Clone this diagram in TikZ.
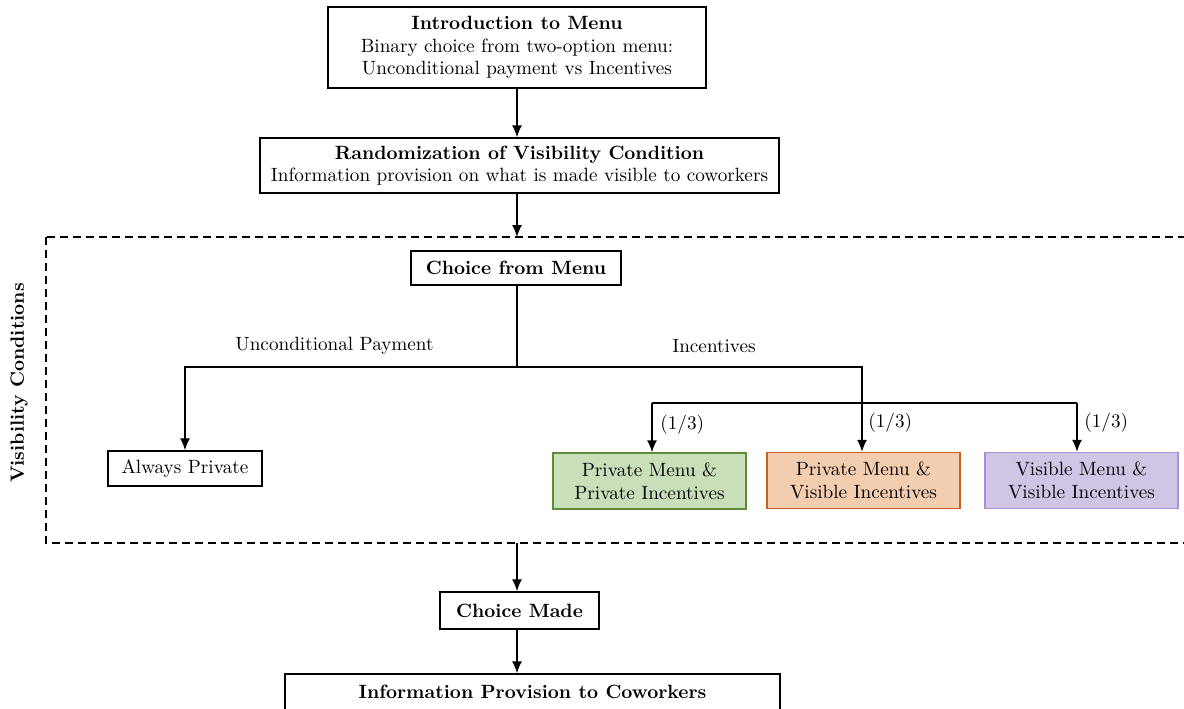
\documentclass[tikz,border=0pt]{standalone}
\usetikzlibrary{arrows.meta}
\definecolor{gfill}{HTML}{C9DFB9}
\definecolor{gdraw}{HTML}{5E8C3A}
\definecolor{ofill}{HTML}{F3CDAF}
\definecolor{odraw}{HTML}{C8601E}
\definecolor{pfill}{HTML}{D1C5E5}
\definecolor{pdraw}{HTML}{A990D2}
\begin{document}
\begin{tikzpicture}[x=0.5pt,y=-0.5pt,
  every node/.style={font=\fontsize{9.6}{11.3}\selectfont},
  box/.style={draw, line width=0.7pt, align=center, inner sep=1pt},
  arr/.style={line width=0.7pt, -{Latex[length=6pt,width=5pt]}},
  ln/.style={line width=0.7pt},
  lbl/.style={inner sep=1pt}]
\useasboundingbox (0,0) rectangle (1184,708);
\clip (0,0) rectangle (1184,708);
\node[box, minimum width=189pt, minimum height=40.5pt] (intro) at (517,47.5)
  {\textbf{Introduction to Menu}\\Binary choice from two-option menu:\\Unconditional payment vs Incentives};
\node[box, minimum width=259.5pt, minimum height=27.5pt] (rand) at (519.5,165.5)
  {\textbf{Randomization of Visibility Condition}\\Information provision on what is made visible to coworkers};
\draw[dash pattern=on 4pt off 2.5pt, line width=0.7pt] (46,237) rectangle (1220,543);
\coordinate (dtop) at (517,237);
\coordinate (dbot) at (517,543);
\node[box, minimum width=105pt, minimum height=17pt] (menu) at (516,268) {\textbf{Choice from Menu}};
\node[box, minimum width=77pt, minimum height=17.5pt] (always) at (185,468.5) {Always Private};
\node[box, draw=gdraw, fill=gfill, minimum width=96.5pt, minimum height=28pt] (green) at (649.5,481) {Private Menu \&\\Private Incentives};
\node[box, draw=odraw, fill=ofill, minimum width=96.5pt, minimum height=28pt] (orange) at (863.5,480.5) {Private Menu \&\\Visible Incentives};
\node[box, draw=pdraw, fill=pfill, minimum width=96.5pt, minimum height=28pt] (purple) at (1081.5,480.5) {Visible Menu \&\\Visible Incentives};
\node[box, minimum width=79.5pt, minimum height=18.5pt] (made) at (519.5,610.5) {\textbf{Choice Made}};
\node[box, minimum width=247.5pt, minimum height=18pt] (info) at (532.5,692) {\textbf{Information Provision to Coworkers}};
\node[rotate=90, font=\fontsize{9.6}{11.3}\selectfont\bfseries] (vis) at (19,383) {Visibility Conditions};
\node[lbl] (lu) at (334.5,346) {Unconditional Payment};
\node[lbl] (li) at (714,346) {Incentives};
\coordinate (j1) at (517,367);
\coordinate (j2) at (862,403);
\coordinate (a1) at (652,403);
\coordinate (a3) at (1077,403);
\draw[arr] (intro.south) -- (rand.north -| intro.south);
\draw[arr] (rand.south -| intro.south) -- (dtop);
\draw[ln] (menu.south -| j1) -- (j1);
\draw[arr] (j1) -| (always.north);
\draw[ln] (j1) -| (j2);
\draw[ln] (a1) -- (a3);
\draw[arr] (j2) -- (j2 |- orange.north);
\draw[arr] (a1) -- (a1 |- green.north);
\draw[arr] (a3) -- (a3 |- purple.north);
\node[lbl, anchor=west] (p1) at (658,425) {(1/3)};
\node[lbl, anchor=west] (p2) at (866,423) {(1/3)};
\node[lbl, anchor=west] (p3) at (1082,423) {(1/3)};
\draw[arr] (dbot) -- (made.north -| dbot);
\draw[arr] (made.south -| dbot) -- (info.north -| dbot);
\end{tikzpicture}
\end{document}
